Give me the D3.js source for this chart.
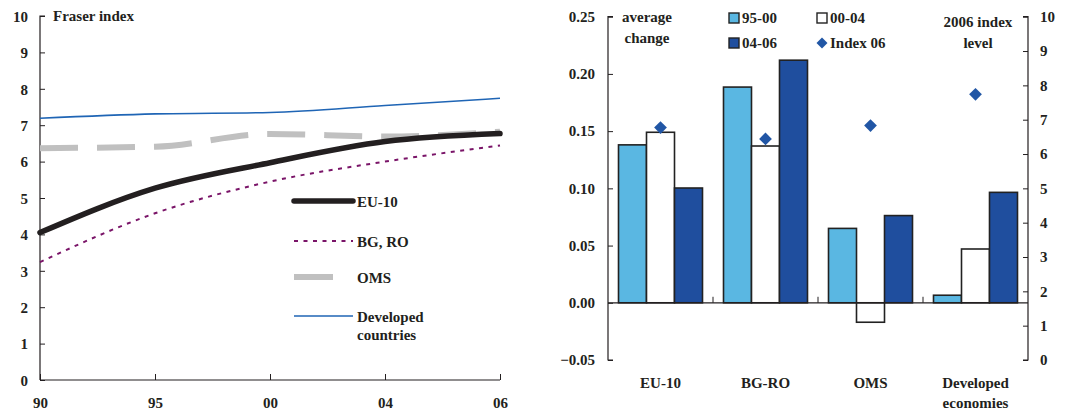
<!DOCTYPE html>
<html><head><meta charset="utf-8">
<script src="https://cdn.jsdelivr.net/npm/d3@7"></script>
<style>
body{margin:0;background:#fff;}
text{font-family:"Liberation Serif","Times New Roman",serif;font-weight:bold;fill:#231f20;}
</style></head>
<body><svg id="c" width="1081" height="412"></svg>
<script>
// ---- Left chart data ----
const years = ["90","95","00","04","06"];
const eu10 = [4.05, 5.27, 5.97, 6.55, 6.77];
const bgro = [3.24, 4.58, 5.45, 6.0, 6.44];
const oms = [6.37, 6.41, 6.76, 6.69, 6.82];
const developed = [7.19, 7.31, 7.35, 7.54, 7.74];
const leftTicks = [0,1,2,3,4,5,6,7,8,9,10];

// ---- Right chart data ----
const groups = ["EU-10","BG-RO","OMS","Developed economies"];
const periods = ["95-00","00-04","04-06"];
const chg9500 = [0.138, 0.1885, 0.065, 0.0066];
const chg0004 = [0.149, 0.137, -0.017, 0.047];
const chg0406 = [0.1003, 0.212, 0.0762, 0.0965];
const index06 = [6.77, 6.44, 6.83, 7.74];
const changeTicks = [-0.05, 0, 0.05, 0.10, 0.15, 0.20, 0.25];
const levelTicks = [0,1,2,3,4,5,6,7,8,9,10];

const svg = d3.select("#c");
const dark = "#231f20";
const fs = 15;

// ================= LEFT =================
const lx = d3.scalePoint().domain(years).range([40, 500]);
const ly = d3.scaleLinear().domain([0, 10]).range([380, 16]);
const L = svg.append("g");

const yAx = L.append("g").attr("transform","translate(40,0)")
  .call(d3.axisRight(ly).tickValues(leftTicks).tickSize(5).tickFormat(d3.format("d")));
yAx.select(".domain").attr("stroke",dark).attr("stroke-width",1.2).attr("d","M5,16H0V380");
yAx.selectAll(".tick line").attr("stroke",dark);
yAx.selectAll(".tick text").attr("x",-12).attr("text-anchor","end").attr("font-size",fs).attr("dy","0.35em")
  .style("font-family","Liberation Serif").style("font-weight","bold");

const xAx = L.append("g").attr("transform","translate(0,380)")
  .call(d3.axisTop(lx).tickSize(6));
xAx.select(".domain").attr("stroke",dark).attr("stroke-width",1.2).attr("d","M40,0H500");
xAx.selectAll(".tick line").attr("stroke",dark);
xAx.selectAll(".tick text").attr("y",28).attr("font-size",fs).attr("dy",0)
  .style("font-family","Liberation Serif").style("font-weight","bold");

L.append("text").attr("x",53).attr("y",21).attr("font-size",fs).text("Fraser index");

const line = d3.line().x((d,i)=>lx(years[i])).y(d=>ly(d)).curve(d3.curveMonotoneX);
const series = [
  {v: oms, stroke:"#c0c0c0", w:6, dash:"38,19", cap:"butt"},
  {v: developed, stroke:"#1f65b5", w:1.6, dash:null, cap:"butt"},
  {v: bgro, stroke:"#7a1468", w:2, dash:"4,5.5", cap:"butt"},
  {v: eu10, stroke:"#231f20", w:5.5, dash:null, cap:"round"}
];
series.forEach(s=>{
  L.append("path").attr("d", line(s.v)).attr("fill","none").attr("stroke",s.stroke)
   .attr("stroke-width",s.w).attr("stroke-dasharray",s.dash).attr("stroke-linecap",s.cap);
});

// legend
const lg = [
  {t:["EU-10"], y:201, stroke:"#231f20", w:5.5, dash:null, x2:353, cap:"round"},
  {t:["BG, RO"], y:241, stroke:"#7a1468", w:2, dash:"4,5.5", x2:353, cap:"butt"},
  {t:["OMS"], y:277, stroke:"#c0c0c0", w:6, dash:null, x2:333, cap:"butt"},
  {t:["Developed","countries"], y:316, stroke:"#1f65b5", w:1.6, dash:null, x2:353, cap:"butt"}
];
lg.forEach(g=>{
  L.append("line").attr("x1",294).attr("x2",g.x2).attr("y1",g.y).attr("y2",g.y)
   .attr("stroke",g.stroke).attr("stroke-width",g.w).attr("stroke-dasharray",g.dash).attr("stroke-linecap",g.cap);
  g.t.forEach((t,i)=>L.append("text").attr("x",357).attr("y",g.y+6+i*18).attr("font-size",fs).text(t));
});

// ================= RIGHT =================
const x0 = d3.scaleBand().domain(groups).range([608, 1028]).paddingInner(0.2).paddingOuter(0.1);
const x1 = d3.scaleBand().domain(periods).range([0, x0.bandwidth()]);
const ry = d3.scaleLinear().domain([-0.05, 0.25]).range([360, 16.7]);
const ry2 = d3.scaleLinear().domain([0, 10]).range([360, 16.7]);
const R = svg.append("g");
const colors = {"95-00":"#5ab7e2","00-04":"#ffffff","04-06":"#1f4e9e"};
const vals = {"95-00":chg9500,"00-04":chg0004,"04-06":chg0406};

const ra = R.append("g").attr("transform","translate(608,0)")
  .call(d3.axisRight(ry).tickValues(changeTicks).tickSize(5).tickFormat(d3.format(".2f")));
ra.select(".domain").attr("stroke",dark).attr("stroke-width",1.2).attr("d","M5,16.7H0V360H5");
ra.selectAll(".tick line").attr("stroke",dark);
ra.selectAll(".tick text").attr("x",-13).attr("text-anchor","end").attr("font-size",fs)
  .style("font-family","Liberation Serif").style("font-weight","bold");

const rb = R.append("g").attr("transform","translate(1028,0)")
  .call(d3.axisLeft(ry2).tickValues(levelTicks).tickSize(5).tickFormat(d3.format("d")));
rb.select(".domain").attr("stroke",dark).attr("stroke-width",1.2).attr("d","M-5,16.7H0V360H-5");
rb.selectAll(".tick line").attr("stroke",dark);
rb.selectAll(".tick text").attr("x",12).attr("text-anchor","start").attr("font-size",fs)
  .style("font-family","Liberation Serif").style("font-weight","bold");

// bars
groups.forEach((g,gi)=>{
  periods.forEach(p=>{
    const v = vals[p][gi];
    R.append("rect").attr("x", x0(g)+x1(p)).attr("width", x1.bandwidth())
      .attr("y", ry(Math.max(0,v))).attr("height", Math.abs(ry(v)-ry(0)))
      .attr("fill", colors[p]).attr("stroke","#222").attr("stroke-width",1.6);
  });
});
// zero axis with group separators
const zx = R.append("g").attr("transform",`translate(0,${ry(0)})`);
zx.append("line").attr("x1",608).attr("x2",1028).attr("stroke",dark).attr("stroke-width",1.2);
[1,2,3].forEach(i=>{
  const xs = 608 + i*x0.step();
  zx.append("line").attr("x1",xs).attr("x2",xs).attr("y1",0).attr("y2",-6).attr("stroke",dark);
});
// diamonds (rotated squares)
const sym = d3.symbol().type(d3.symbolSquare).size(81);
groups.forEach((g,gi)=>{
  R.append("path").attr("d",sym()).attr("fill","#2156a5")
    .attr("transform",`translate(${x0(g)+x0.bandwidth()/2},${ry2(index06[gi])}) rotate(45)`);
});
// category labels
groups.forEach(g=>{
  const cx = x0(g)+x0.bandwidth()/2;
  const parts = g==="Developed economies" ? ["Developed","economies"] : [g];
  parts.forEach((t,i)=>R.append("text").attr("x",cx).attr("y",388+i*20).attr("text-anchor","middle").attr("font-size",fs).text(t));
});
// headers
R.append("text").attr("x",647).attr("y",22).attr("text-anchor","middle").attr("font-size",fs).text("average");
R.append("text").attr("x",647).attr("y",43).attr("text-anchor","middle").attr("font-size",fs).text("change");
R.append("text").attr("x",978).attr("y",27).attr("text-anchor","middle").attr("font-size",fs).text("2006 index");
R.append("text").attr("x",978).attr("y",48).attr("text-anchor","middle").attr("font-size",fs).text("level");
// legend
const leg = [
  {p:"95-00", x:729, y:13},
  {p:"00-04", x:817, y:13},
  {p:"04-06", x:729, y:38}
];
leg.forEach(l=>{
  R.append("rect").attr("x",l.x).attr("y",l.y).attr("width",10).attr("height",10)
    .attr("fill",colors[l.p]).attr("stroke","#222").attr("stroke-width",1.4);
  R.append("text").attr("x",l.x+13).attr("y",l.y+10).attr("font-size",fs).text(l.p);
});
R.append("path").attr("d",d3.symbol().type(d3.symbolSquare).size(60)()).attr("fill","#2156a5").attr("transform","translate(822,43) rotate(45)");
R.append("text").attr("x",830).attr("y",48).attr("font-size",fs).text("Index 06");
</script></body></html>
